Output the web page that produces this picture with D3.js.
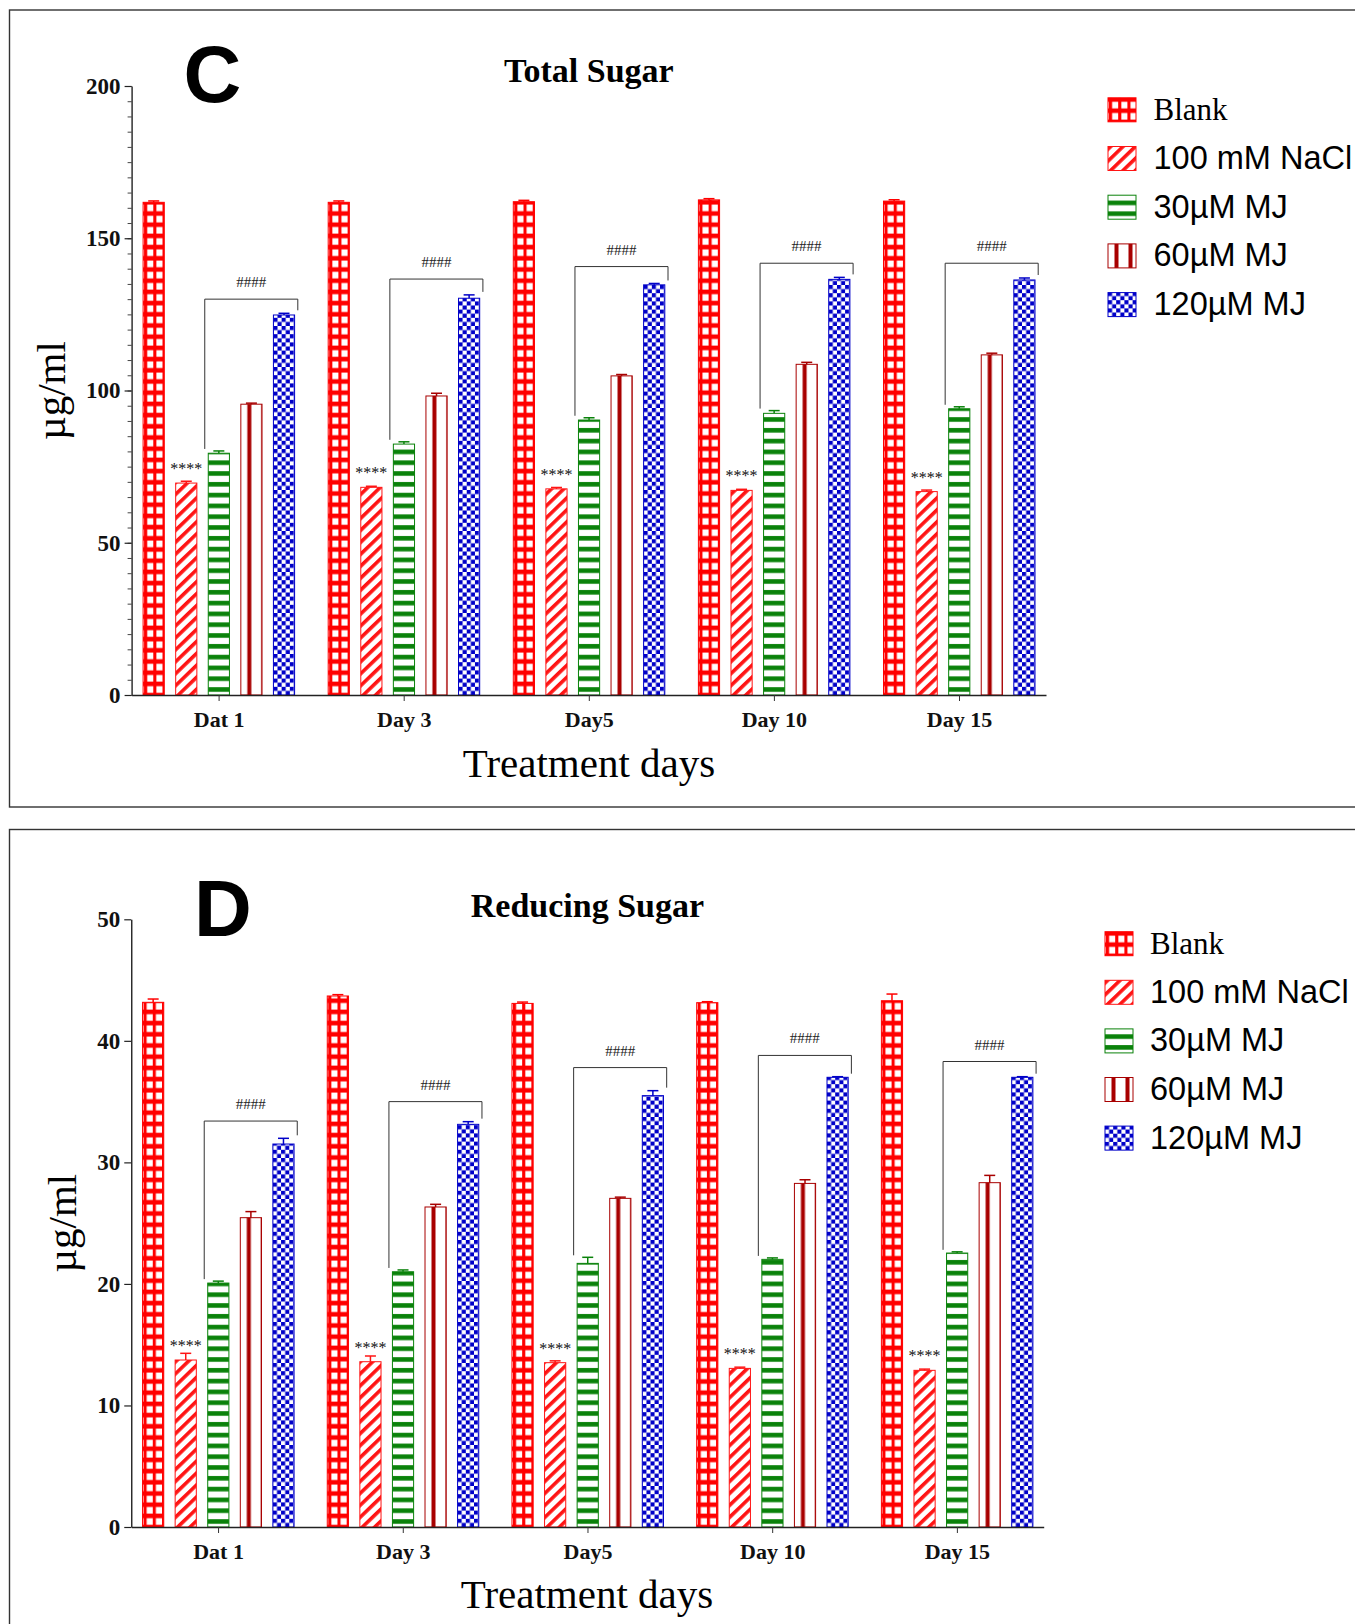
<!DOCTYPE html>
<html><head><meta charset="utf-8">
<script src="https://cdn.jsdelivr.net/npm/d3@7"></script>
<style>body{margin:0;background:#fff}svg{display:block}</style>
</head><body><svg id="chart" width="1355" height="1624"></svg>
<script>
// ---------- DATA ----------
const days = ["Dat 1", "Day 3", "Day5", "Day 10", "Day 15"];
const seriesNames = ["Blank", "100 mM NaCl", "30µM MJ", "60µM MJ", "120µM MJ"];

// Panel C – Total Sugar (µg/ml)
const totalBlank = [161.8, 161.8, 162.0, 162.6, 162.2];
const totalNaCl  = [69.6, 68.2, 67.7, 67.2, 66.8];
const totalMJ30  = [79.4, 82.4, 90.3, 92.5, 94.0];
const totalMJ60  = [95.5, 98.2, 104.8, 108.6, 111.7];
const totalMJ120 = [124.8, 130.3, 134.7, 136.5, 136.3];
const totalBlankErr = [0.45, 0.45, 0.45, 0.4, 0.45];
const totalNaClErr  = [0.6, 0.35, 0.45, 0.35, 0.5];
const totalMJ30Err  = [0.75, 0.75, 0.75, 0.9, 0.65];
const totalMJ60Err  = [0.35, 0.9, 0.45, 0.65, 0.55];
const totalMJ120Err = [0.55, 1.1, 0.45, 0.65, 0.65];
const totalBracket  = [130.0, 136.6, 140.7, 141.8, 141.8];
const totalTicks    = [0, 50, 100, 150, 200];

// Panel D – Reducing Sugar (µg/ml)
const redBlank = [43.17, 43.69, 43.08, 43.14, 43.3];
const redNaCl  = [13.74, 13.6, 13.52, 13.05, 12.89];
const redMJ30  = [20.07, 21.0, 21.69, 22.02, 22.54];
const redMJ60  = [25.45, 26.33, 27.04, 28.27, 28.33];
const redMJ120 = [31.51, 33.13, 35.49, 37.0, 37.0];
const redBlankErr = [0.27, 0.11, 0.11, 0.08, 0.55];
const redNaClErr  = [0.55, 0.47, 0.15, 0.1, 0.1];
const redMJ30Err  = [0.16, 0.15, 0.5, 0.12, 0.1];
const redMJ60Err  = [0.5, 0.22, 0.1, 0.3, 0.6];
const redMJ120Err = [0.47, 0.22, 0.41, 0.05, 0.05];
const redBracket  = [33.4, 35.0, 37.8, 38.8, 38.3];
const redTicks    = [0, 10, 20, 30, 40, 50];

// ---------- STYLE ----------
const seriesColors = ["#ff0000", "#ff1414", "#0a820a", "#a80000", "#0000c8"];
const serif = "'Liberation Serif','Times New Roman',serif";
const sans = "'Liberation Sans',Arial,sans-serif";

const svg = d3.select("#chart");
const defs = svg.append("defs");

// Patterns (userSpaceOnUse, anchored at each bar's local origin)
(function makePatterns() {
  let p = defs.append("pattern").attr("id", "pat0").attr("patternUnits", "userSpaceOnUse")
    .attr("x", 1).attr("y", 0).attr("width", 9.2).attr("height", 11.2);
  p.append("rect").attr("width", 9.2).attr("height", 11.2).attr("fill", seriesColors[0]);
  p.append("rect").attr("x", 3.1).attr("y", 2.4).attr("width", 6.1).attr("height", 6.6).attr("fill", "#fff");

  p = defs.append("pattern").attr("id", "pat1").attr("patternUnits", "userSpaceOnUse")
    .attr("width", 20).attr("height", 8.6).attr("patternTransform", "rotate(-44)");
  p.append("rect").attr("width", 20).attr("height", 8.6).attr("fill", "#fff");
  p.append("rect").attr("width", 20).attr("height", 3.6).attr("fill", seriesColors[1]);

  p = defs.append("pattern").attr("id", "pat2").attr("patternUnits", "userSpaceOnUse")
    .attr("width", 10).attr("height", 10.8);
  p.append("rect").attr("width", 10).attr("height", 10.8).attr("fill", "#fff");
  p.append("rect").attr("y", 3).attr("width", 10).attr("height", 4.6).attr("fill", seriesColors[2]);

  p = defs.append("pattern").attr("id", "pat3").attr("patternUnits", "userSpaceOnUse")
    .attr("width", 14).attr("height", 10);
  p.append("rect").attr("width", 14).attr("height", 10).attr("fill", "#fff");
  p.append("rect").attr("x", 6.5).attr("width", 4).attr("height", 10).attr("fill", seriesColors[3]);

  const c = 4.1;
  p = defs.append("pattern").attr("id", "pat4").attr("patternUnits", "userSpaceOnUse")
    .attr("width", 2 * c).attr("height", 2 * c);
  p.append("rect").attr("width", 2 * c).attr("height", 2 * c).attr("fill", "#fff");
  p.append("rect").attr("width", c).attr("height", c).attr("fill", seriesColors[4]);
  p.append("rect").attr("x", c).attr("y", c).attr("width", c).attr("height", c).attr("fill", seriesColors[4]);
})();

// ---------- PANELS ----------
const panels = [
  {
    letter: "C", title: "Total Sugar",
    values: [totalBlank, totalNaCl, totalMJ30, totalMJ60, totalMJ120],
    errors: [totalBlankErr, totalNaClErr, totalMJ30Err, totalMJ60Err, totalMJ120Err],
    brackets: totalBracket, ticks: totalTicks, minorStep: 5,
    frame: {x: 9.5, y: 10, w: 1370, h: 797},
    xRange: [131.6, 1046], yRange: [695, 86],
    letterPos: [183.5, 102], titleY: 81.7,
    yLabelX: 65, xTitleY: 776.7, xTitleX: 589,
    legendX: 1108, legendY0: 109.8, legendStep: 48.7, legendTextX: 1153.5
  },
  {
    letter: "D", title: "Reducing Sugar",
    values: [redBlank, redNaCl, redMJ30, redMJ60, redMJ120],
    errors: [redBlankErr, redNaClErr, redMJ30Err, redMJ60Err, redMJ120Err],
    brackets: redBracket, ticks: redTicks, minorStep: null,
    frame: {x: 9.5, y: 829.5, w: 1370, h: 900},
    xRange: [131.25, 1043.7], yRange: [1527, 919.3],
    letterPos: [194, 936], titleY: 916.7,
    yLabelX: 76, xTitleY: 1608.3, xTitleX: 587,
    legendX: 1105, legendY0: 943.7, legendStep: 48.6, legendTextX: 1150
  }
];

panels.forEach(P => {
  const g = svg.append("g");
  // frame
  g.append("rect").attr("x", P.frame.x).attr("y", P.frame.y).attr("width", P.frame.w).attr("height", P.frame.h)
    .attr("fill", "none").attr("stroke", "#333").attr("stroke-width", 1.4);

  const ymax = P.ticks[P.ticks.length - 1];
  const y = d3.scaleLinear().domain([0, ymax]).range(P.yRange);
  const x = d3.scalePoint().domain(days).range(P.xRange).padding(0.47);
  const xs = d3.scaleBand().domain(seriesNames).range([-75.5, 76]).paddingInner(0.35);
  const bw = xs.bandwidth();

  // bars
  P.values.forEach((vals, si) => {
    vals.forEach((v, di) => {
      const x0 = x(days[di]) + xs(seriesNames[si]);
      const bg = g.append("g").attr("transform", `translate(${x0},${y(0)})`);
      bg.append("rect").attr("x", 0).attr("y", y(v) - y(0)).attr("width", bw).attr("height", y(0) - y(v))
        .attr("fill", `url(#pat${si})`).attr("stroke", seriesColors[si]).attr("stroke-width", 1);
      // error bar (upper)
      const cx = bw / 2, top = y(v + P.errors[si][di]) - y(0), base = y(v) - y(0);
      bg.append("line").attr("x1", cx).attr("x2", cx).attr("y1", base).attr("y2", top)
        .attr("stroke", seriesColors[si]).attr("stroke-width", 1.5);
      bg.append("line").attr("x1", cx - 5.5).attr("x2", cx + 5.5).attr("y1", top).attr("y2", top)
        .attr("stroke", seriesColors[si]).attr("stroke-width", 1.5);
    });
  });

  // significance stars over NaCl
  P.values[1].forEach((v, di) => {
    const cx = x(days[di]) + xs(seriesNames[1]) + bw / 2;
    g.append("text").attr("x", cx).attr("y", y(v) - 9).attr("text-anchor", "middle")
      .attr("font-family", serif).attr("font-size", 16).attr("fill", "#111").text("****");
  });

  // brackets #### between 30µM and 120µM
  P.brackets.forEach((b, di) => {
    const gx = x(days[di]);
    const left = gx + xs(seriesNames[2]) - 3.5;
    const right = gx + xs(seriesNames[4]) + bw + 3.2;
    const yb = y(b);
    const yl = y(P.values[2][di] + P.errors[2][di]) - 2;
    const yr = y(P.values[4][di] + P.errors[4][di]) - 3;
    g.append("path").attr("d", `M${left},${yl}V${yb}H${right}V${yr}`)
      .attr("fill", "none").attr("stroke", "#333").attr("stroke-width", 1);
    g.append("text").attr("x", (left + right) / 2).attr("y", yb - 12).attr("text-anchor", "middle")
      .attr("font-family", serif).attr("font-size", 15).attr("fill", "#222").text("####");
  });

  // axes
  const xAxis = g.append("g").attr("transform", `translate(0,${y(0)})`)
    .call(d3.axisBottom(x).tickSize(6).tickSizeOuter(0).tickPadding(10.3));
  xAxis.select(".domain").attr("stroke", "#222").attr("stroke-width", 1.4);
  xAxis.selectAll(".tick line").attr("stroke", "#333").attr("stroke-width", 1);
  xAxis.selectAll("text").attr("font-family", serif).attr("font-weight", "bold").attr("font-size", 22).attr("fill", "#111");

  if (P.minorStep) {
    const minor = g.append("g").attr("transform", `translate(${P.xRange[0]},0)`)
      .call(d3.axisLeft(y).tickValues(d3.range(0, ymax + 0.01, P.minorStep)).tickSize(4).tickFormat(""));
    minor.select(".domain").remove();
    minor.selectAll(".tick line").attr("stroke", "#444").attr("stroke-width", 1);
  }
  const yAxis = g.append("g").attr("transform", `translate(${P.xRange[0]},0)`)
    .call(d3.axisLeft(y).tickValues(P.ticks).tickSize(7).tickSizeOuter(0).tickPadding(4));
  yAxis.select(".domain").attr("stroke", "#222").attr("stroke-width", 1.4);
  yAxis.selectAll(".tick line").attr("stroke", "#222").attr("stroke-width", 1.2);
  yAxis.selectAll("text").attr("font-family", serif).attr("font-weight", "bold").attr("font-size", 23).attr("fill", "#111");

  // titles and labels
  g.append("text").attr("x", P.letterPos[0]).attr("y", P.letterPos[1]).attr("font-family", sans)
    .attr("font-weight", "bold").attr("font-size", 80).attr("fill", "#000").text(P.letter);
  const plotMid = (P.xRange[0] + P.xRange[1]) / 2;
  g.append("text").attr("x", plotMid).attr("y", P.titleY).attr("text-anchor", "middle")
    .attr("font-family", serif).attr("font-weight", "bold").attr("font-size", 34).attr("fill", "#000").text(P.title);
  const yMid = (P.yRange[0] + P.yRange[1]) / 2;
  g.append("text").attr("transform", `translate(${P.yLabelX},${yMid}) rotate(-90)`).attr("text-anchor", "middle")
    .attr("font-family", serif).attr("font-size", 41).attr("fill", "#000").text("µg/ml");
  g.append("text").attr("x", P.xTitleX).attr("y", P.xTitleY).attr("text-anchor", "middle")
    .attr("font-family", serif).attr("font-size", 41).attr("fill", "#000").text("Treatment days");

  // legend
  seriesNames.forEach((name, si) => {
    const cy = P.legendY0 + si * P.legendStep;
    const lg = g.append("g").attr("transform", `translate(${P.legendX},${cy + 12})`);
    lg.append("rect").attr("x", 0).attr("y", -24).attr("width", 28).attr("height", 24)
      .attr("fill", `url(#pat${si})`).attr("stroke", seriesColors[si]).attr("stroke-width", 1);
    g.append("text").attr("x", P.legendTextX).attr("y", cy + 10.5)
      .attr("font-family", si === 0 ? serif : sans).attr("font-size", si === 0 ? 31 : 32.5)
      .attr("fill", "#000").text(name);
  });
});
</script>
</body></html>
